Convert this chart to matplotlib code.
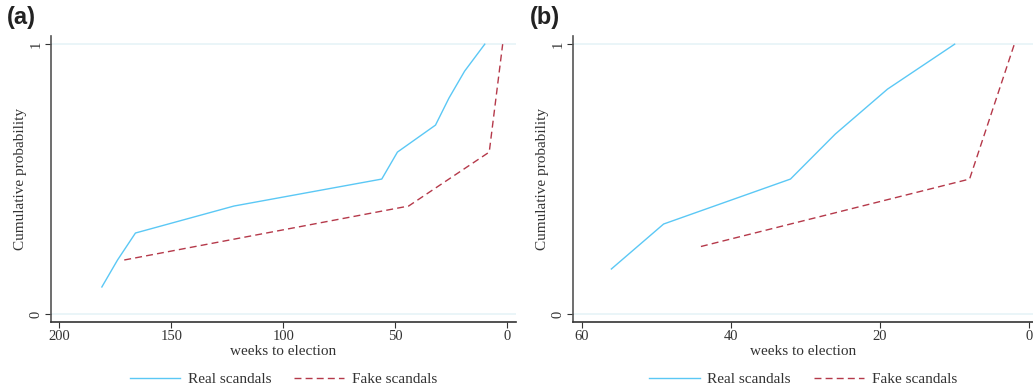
import matplotlib.pyplot as plt
from matplotlib.lines import Line2D

# panel (a): all scandals
real_weeks_a = [181, 174, 166, 122, 56, 49, 32, 26, 19, 10]
real_prob_a = [0.1, 0.2, 0.3, 0.4, 0.5, 0.6, 0.7, 0.8, 0.9, 1.0]
fake_weeks_a = [171, 44, 8, 2]
fake_prob_a = [0.2, 0.4, 0.6, 1.0]

# panel (b)
real_weeks_b = [56, 49, 32, 26, 19, 10]
real_prob_b = [1 / 6, 2 / 6, 3 / 6, 4 / 6, 5 / 6, 1.0]
fake_weeks_b = [44, 8, 2]
fake_prob_b = [0.25, 0.5, 1.0]

xticks_a = [200, 150, 100, 50, 0]
xticks_b = [60, 40, 20, 0]

REAL_COLOR = '#5bc8f5'
FAKE_COLOR = '#b5394a'
GRID_COLOR = '#e6f3f7'

plt.rcParams['font.family'] = ['Liberation Serif', 'DejaVu Serif']

fig = plt.figure(figsize=(10.33, 3.88), dpi=100)
ax_a = fig.add_axes([0.0494, 0.170, 0.450, 0.737])
ax_b = fig.add_axes([0.555, 0.170, 0.445, 0.737])


def style_panel(ax, xlim, xticks, label, label_x):
    ax.set_xlim(*xlim)
    ax.set_ylim(-0.03, 1.03)
    ax.set_xticks(xticks)
    ax.set_xticklabels([str(t) for t in xticks], fontsize=10.5, color='#333333')
    ax.set_yticks([0, 1])
    ax.set_yticklabels(['0', '1'], fontsize=10.5, color='#333333',
                       rotation=90, va='center')
    for y in (0, 1):
        ax.axhline(y, color=GRID_COLOR, lw=1.2, zorder=0)
    ax.spines['top'].set_visible(False)
    ax.spines['right'].set_visible(False)
    ax.spines['left'].set_color('#555555')
    ax.spines['bottom'].set_color('#333333')
    ax.spines['left'].set_linewidth(1.2)
    ax.spines['bottom'].set_linewidth(1.2)
    ax.tick_params(axis='both', length=4, color='#333333', width=0.8, pad=2)
    ax.set_xlabel('weeks to election', fontsize=11, color='#333333', labelpad=1)
    ax.set_ylabel('Cumulative probability', fontsize=11, color='#333333', labelpad=2)
    fig.text(label_x, 0.985, label, fontsize=17, va='top', ha='left',
             family=['Liberation Sans'], color='#222222', fontweight='bold')

    handles = [Line2D([], [], color=REAL_COLOR, lw=1),
               Line2D([], [], color=FAKE_COLOR, lw=1, ls=(0, (5, 3)))]
    ax.legend(handles, ['Real scandals', 'Fake scandals'], loc='center',
              bbox_to_anchor=(0.5, -0.2), ncol=2, frameon=False, fontsize=11,
              handlelength=3.3, columnspacing=1.5, handletextpad=0.5,
              labelcolor='#333333', borderpad=0)


ax_a.plot(real_weeks_a, real_prob_a, color=REAL_COLOR, lw=1)
ax_a.plot(fake_weeks_a, fake_prob_a, color=FAKE_COLOR, lw=1, ls=(0, (5, 3)))
style_panel(ax_a, (203.7, -3.9), xticks_a, '(a)', 0.007)

ax_b.plot(real_weeks_b, real_prob_b, color=REAL_COLOR, lw=1)
ax_b.plot(fake_weeks_b, fake_prob_b, color=FAKE_COLOR, lw=1, ls=(0, (5, 3)))
style_panel(ax_b, (61.1, -0.5), xticks_b, '(b)', 0.513)

fig.savefig('out.png', dpi=100)
